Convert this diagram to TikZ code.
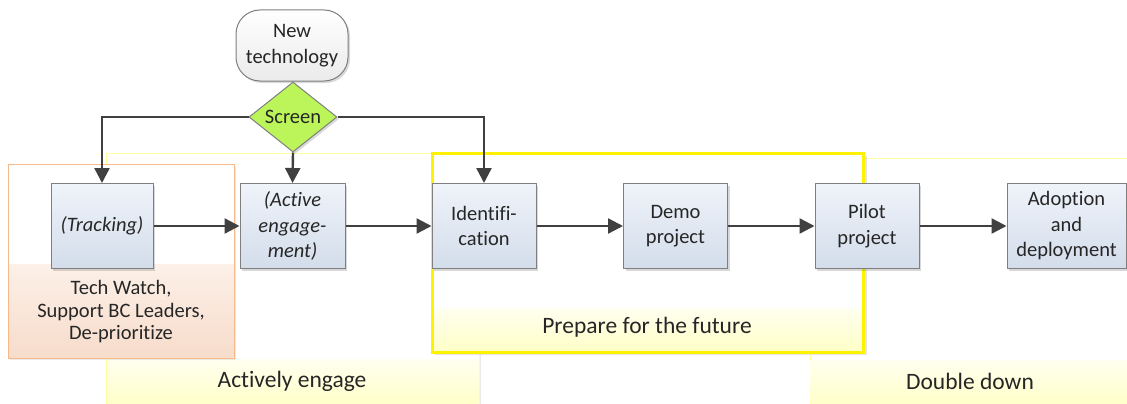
\documentclass[tikz,border=0pt]{standalone}
\usepackage{fontspec}
\setmainfont{Carlito}[Ligatures=NoCommon]
\usetikzlibrary{arrows.meta,shapes.geometric,shadows}
\definecolor{arrowgray}{HTML}{404040}
\definecolor{boxedge}{HTML}{7F7F7F}
\definecolor{boxtop}{HTML}{EFF3FA}
\definecolor{boxbot}{HTML}{D3DDEA}
\definecolor{grpyellow}{HTML}{FFFF9E}
\definecolor{bandtop}{HTML}{FFFFF0}
\definecolor{bandbot}{HTML}{FFFFC8}
\definecolor{orangeedge}{HTML}{F8B98A}
\definecolor{peachtop}{HTML}{FCF0E8}
\definecolor{peachbot}{HTML}{F7DCCB}
\definecolor{screengreen}{HTML}{BCF55A}
\tikzset{
  x=1pt, y=-1pt,
  every node/.style={font=\fontsize{20.5}{25.5}\selectfont, text=black!85},
  softshadow/.style={drop shadow={shadow xshift=2pt, shadow yshift=-2pt, opacity=0.25, fill=black!60}},
  stepbox/.style={draw=boxedge, line width=1pt, top color=boxtop, bottom color=boxbot,
    minimum height=85pt, inner sep=2pt, align=center, softshadow},
  flow/.style={draw=arrowgray, line width=2.4pt, -{Triangle[length=15pt,width=15pt]}},
  bandtext/.style={inner sep=0pt, font=\fontsize{23.5}{28}\selectfont}
}
\begin{document}
\begin{tikzpicture}
\useasboundingbox (0,0) rectangle (1127,404);

% --- phase groups in the background ---
% Actively engage
\fill[black!20, opacity=0.4] (108,155) rectangle (481,406);
\draw[grpyellow, fill=white, line width=0.8pt] (106,153) rectangle (479,406);
\shade[top color=bandtop, bottom color=bandbot] (107,359) rectangle (478.5,405);
\node[bandtext] (ae) at (292,381) {Actively engage};

% Double down
\fill[black!20, opacity=0.4] (812,160) rectangle (1130,406);
\draw[grpyellow, fill=white, line width=0.8pt] (810,158) rectangle (1130,406);
\shade[top color=bandtop, bottom color=bandbot] (810.5,360) rectangle (1130,405);
\node[bandtext] (dd) at (970,381) {Double down};

% Prepare for the future
\fill[black!25, opacity=0.4] (435,156) rectangle (867,355);
\draw[yellow, fill=white, line width=3pt] (432,153) rectangle (863,352);
\shade[top color=bandtop, bottom color=bandbot] (433.5,308) rectangle (861.5,350.5);
\draw[yellow, line width=3pt] (432,153) rectangle (863,352);
\node[bandtext] (pf) at (647,327) {Prepare for the future};

% Tracking group
\fill[black!20, opacity=0.4] (10,166) rectangle (236,360);
\draw[orangeedge, fill=white, line width=0.9pt] (8,164) rectangle (234,358);
\shade[top color=peachtop, bottom color=peachbot] (8.5,264) rectangle (233.5,357.5);
\draw[orangeedge, line width=0.9pt] (8,164) rectangle (234,358);
\node[inner sep=0pt, align=center, font=\fontsize{20.5}{22.5}\selectfont] (tw) at (121,312)
  {Tech Watch,\\Support BC Leaders,\\De-prioritize};

% --- start and decision ---
\node[draw=boxedge, line width=1pt, rounded corners=24pt, top color=white, bottom color=black!8,
  minimum width=112pt, minimum height=71pt, align=center, inner sep=2pt, softshadow]
  (new) at (292,45.5) {New\\technology};
\node[diamond, draw=boxedge, line width=1pt, fill=screengreen, minimum width=88pt,
  minimum height=70pt, inner sep=0pt, aspect=1.257, softshadow] (screen) at (293,117) {Screen};

% --- process steps ---
\node[stepbox, minimum width=102pt] (track) at (102,226) {\itshape (Tracking)};
\node[stepbox, minimum width=105pt] (active) at (292.5,226) {\itshape (Active\\\itshape engage-\\\itshape ment)};
\node[stepbox, minimum width=104pt] (ident) at (484,226) {Identifi-\\cation};
\node[stepbox, minimum width=104pt] (demo) at (675.5,226) {Demo\\project};
\node[stepbox, minimum width=104pt] (pilot) at (867,226) {Pilot\\project};
\node[stepbox, minimum width=119pt] (adopt) at (1066.5,226) {Adoption\\and\\deployment};

% --- connectors ---
\draw[flow] (screen.west) -| (track.north);
\draw[flow] (screen.south) -- (active.north);
\draw[flow] (screen.east) -| (ident.north);
\draw[flow] (track) -- (active);
\draw[flow] (active) -- (ident);
\draw[flow] (ident) -- (demo);
\draw[flow] (demo) -- (pilot);
\draw[flow] (pilot) -- (adopt);
\end{tikzpicture}
\end{document}
